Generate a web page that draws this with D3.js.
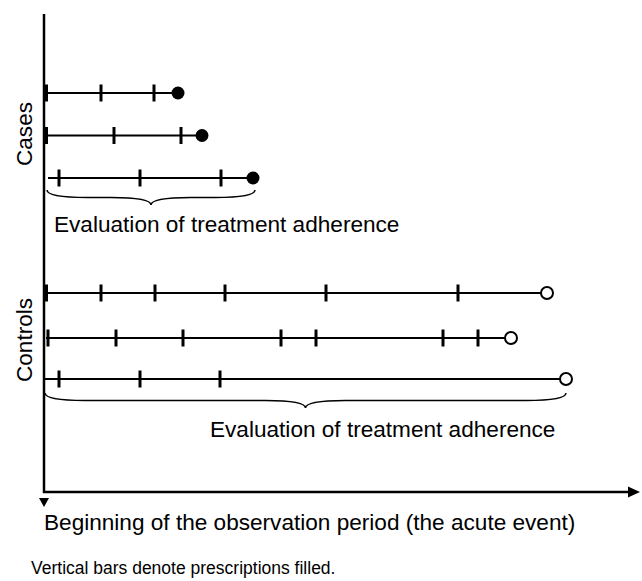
<!DOCTYPE html>
<html><head><meta charset="utf-8">
<script src="https://cdn.jsdelivr.net/npm/d3@7"></script>
<style>body{margin:0;background:#fff}svg{display:block}text{font-family:"Liberation Sans",Arial,sans-serif;fill:#000}</style>
</head><body><svg id="c" width="642" height="581"></svg>
<script>
// Time units (arbitrary, from acute event)
const groups = ["Cases", "Controls"];
const caseStarts = [0, 0, 4];
const caseRefills = [[2, 57, 110], [2, 70, 137], [15, 96, 177]];
const caseEnds = [134, 158, 209];
const controlStarts = [0, 2, 0];
const controlRefills = [[2, 57, 111, 181, 282, 414], [4, 72, 139, 237, 272, 399, 434], [15, 96, 176]];
const controlEnds = [503, 467, 522];
const braceRanges = [[3, 211], [1, 522]];
const braceLabel = "Evaluation of treatment adherence";
const xAxisLabel = "Beginning of the observation period (the acute event)";
const footnote = "Vertical bars denote prescriptions filled.";

const svg = d3.select("#c");
const x = d3.scaleLinear().domain([0, 584]).range([44, 628]);
const rowPos = {c0: 93, c1: 135.5, c2: 178, k0: 293, k1: 338, k2: 379};

// axes
svg.append("line").attr("x1", 44).attr("x2", 44).attr("y1", 14).attr("y2", 493)
  .attr("stroke", "#000").attr("stroke-width", 2.5);
svg.append("line").attr("x1", 43).attr("x2", 630).attr("y1", 492).attr("y2", 492)
  .attr("stroke", "#000").attr("stroke-width", 2.5);
svg.append("path").attr("d", "M628,486.5 L640,492 L628,497.5 Z").attr("fill", "#000");
svg.append("path").attr("d", "M39,498 L49,498 L44,507 Z").attr("fill", "#000");

function drawGroup(prefix, starts, refills, ends, filled) {
  starts.forEach((s, i) => {
    const y = rowPos[prefix + i];
    const g = svg.append("g");
    g.append("line").attr("x1", x(s)).attr("x2", x(ends[i])).attr("y1", y).attr("y2", y)
      .attr("stroke", "#000").attr("stroke-width", 1.8);
    g.selectAll("line.t").data(refills[i]).join("line").attr("class", "t")
      .attr("x1", d => x(d)).attr("x2", d => x(d))
      .attr("y1", y - 8.5).attr("y2", y + 8.5)
      .attr("stroke", "#000").attr("stroke-width", d => d <= 3 ? 4 : 3);
    g.append("circle").attr("cx", x(ends[i])).attr("cy", y).attr("r", filled ? 6.5 : 6)
      .attr("fill", filled ? "#000" : "#fff").attr("stroke", "#000").attr("stroke-width", filled ? 0 : 2);
  });
}
drawGroup("c", caseStarts, caseRefills, caseEnds, true);
drawGroup("k", controlStarts, controlRefills, controlEnds, false);

function brace(x1, x2, y, h) {
  const xm = (x1 + x2) / 2, q = h / 2;
  const r = Math.min(40, (x2 - x1) / 4);
  return `M${x1},${y} Q${x1},${y+q} ${x1+r},${y+q} L${xm-r},${y+q} Q${xm},${y+q} ${xm},${y+h}` +
         ` Q${xm},${y+q} ${xm+r},${y+q} L${x2-r},${y+q} Q${x2},${y+q} ${x2},${y}`;
}
const braceY = [190, 393];
braceRanges.forEach((r, i) => {
  svg.append("path").attr("d", brace(x(r[0]), x(r[1]), braceY[i], 15))
    .attr("fill", "none").attr("stroke", "#000").attr("stroke-width", 1.5);
});
svg.append("text").attr("x", 54).attr("y", 232).attr("font-size", 22.6).text(braceLabel);
svg.append("text").attr("x", 210).attr("y", 437).attr("font-size", 22.6).text(braceLabel);

// group labels
const gy = [134, 340];
groups.forEach((gname, i) => {
  svg.append("text").attr("transform", `translate(32,${gy[i]}) rotate(-90)`)
    .attr("text-anchor", "middle").attr("font-size", 22.6).text(gname);
});

svg.append("text").attr("x", 44).attr("y", 530).attr("font-size", 22.6).text(xAxisLabel);
svg.append("text").attr("x", 31).attr("y", 574).attr("font-size", 17.5).text(footnote);
</script></body></html>
